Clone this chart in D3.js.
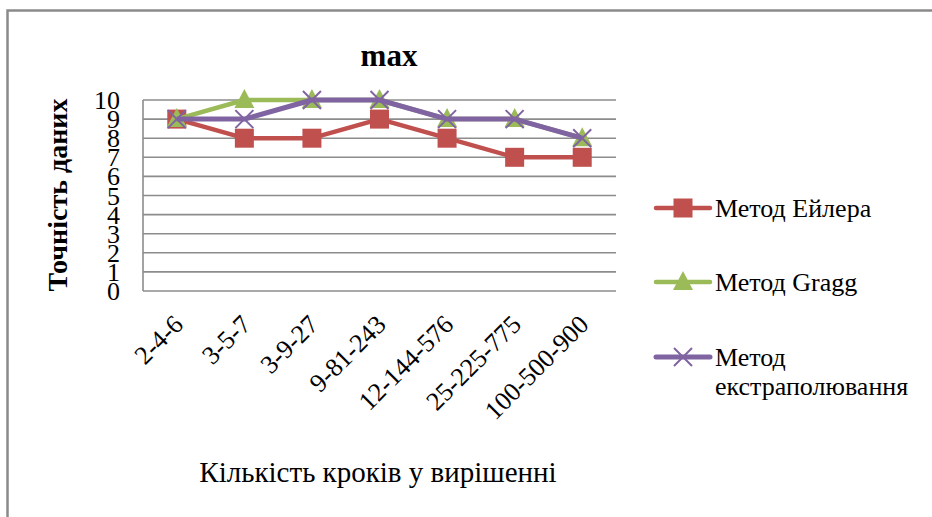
<!DOCTYPE html>
<html>
<head>
<meta charset="utf-8">
<script src="https://cdn.jsdelivr.net/npm/d3@7"></script>
<style>
  html, body { margin: 0; padding: 0; background: #fff; }
  svg { display: block; }
  text { font-family: "Liberation Serif", "Times New Roman", serif; fill: #000; }
</style>
</head>
<body>
<svg id="chart" width="932" height="517"></svg>
<script>
// Step-count combinations along the x axis
const categories = ["2-4-6", "3-5-7", "3-9-27", "9-81-243", "12-144-576", "25-225-775", "100-500-900"];
// Data accuracy per method
const eulerValues = [9, 8, 8, 9, 8, 7, 7];
const graggValues = [9, 10, 10, 10, 9, 9, 8];
const extrapValues = [9, 9, 10, 10, 9, 9, 8];
const yTicks = [0, 1, 2, 3, 4, 5, 6, 7, 8, 9, 10];
const seriesNames = ["Метод Ейлера", "Метод Gragg", "Метод екстраполювання"];

const series = [
  { name: seriesNames[0], values: eulerValues, color: "#C0504D", marker: "square", width: 4.5 },
  { name: seriesNames[1], values: graggValues, color: "#9BBB59", marker: "triangle", width: 4.5 },
  { name: seriesNames[2], values: extrapValues, color: "#8064A2", marker: "cross", width: 5 }
];

const svg = d3.select("#chart");

// outer chart frame
svg.append("rect")
  .attr("x", 7.5).attr("y", 10.5)
  .attr("width", 1000).attr("height", 1000)
  .attr("fill", "none").attr("stroke", "#8a8a8a").attr("stroke-width", 2.5);

const plot = { left: 143, right: 616, top: 100, bottom: 291 };

const x = d3.scaleBand().domain(categories).range([plot.left, plot.right]);
const y = d3.scaleLinear().domain([0, 10]).range([plot.bottom, plot.top]);
const cx = d => x(d) + x.bandwidth() / 2;

// horizontal gridlines
svg.append("g").selectAll("line").data(yTicks).join("line")
  .attr("x1", plot.left).attr("x2", plot.right)
  .attr("y1", d => y(d)).attr("y2", d => y(d))
  .attr("stroke", "#8c8c8c").attr("stroke-width", 1.6);

// y axis line
svg.append("line")
  .attr("x1", plot.left).attr("x2", plot.left)
  .attr("y1", plot.top).attr("y2", plot.bottom)
  .attr("stroke", "#8c8c8c").attr("stroke-width", 1.6);

// y axis tick labels
const yAxis = d3.axisLeft(y).tickValues(yTicks).tickSize(0).tickPadding(0).tickFormat(d3.format("d"));
const yg = svg.append("g").attr("transform", `translate(${plot.left - 23},0)`).call(yAxis);
yg.attr("font-family", null);
yg.select(".domain").remove();
yg.selectAll("text").attr("font-size", 26).attr("fill", "#000").attr("dy", "0.33em");

// x axis tick labels, rotated
svg.append("g").selectAll("text").data(categories).join("text")
  .attr("transform", d => `translate(${cx(d) + 8},${plot.bottom + 35}) rotate(-45)`)
  .attr("text-anchor", "end")
  .attr("font-size", 26)
  .text(d => d);

// title
svg.append("text").attr("x", 389).attr("y", 66)
  .attr("text-anchor", "middle").attr("font-size", 31).attr("font-weight", "bold")
  .text("max");

// axis titles
svg.append("text")
  .attr("transform", `translate(67,195) rotate(-90)`)
  .attr("text-anchor", "middle").attr("font-size", 28).attr("font-weight", "bold")
  .text("Точність даних");

svg.append("text").attr("x", 378).attr("y", 482)
  .attr("text-anchor", "middle").attr("font-size", 29)
  .text("Кількість кроків у вирішенні");

function drawMarker(g, type, color) {
  if (type === "square") {
    g.append("rect").attr("x", -9.5).attr("y", -9.5).attr("width", 19).attr("height", 19)
      .attr("fill", color);
  } else if (type === "triangle") {
    g.append("path").attr("d", "M0,-11 L10,8 L-10,8 Z").attr("fill", color);
  } else {
    g.append("path").attr("d", "M-9,-9 L9,9 M9,-9 L-9,9")
      .attr("stroke", color).attr("stroke-width", 2).attr("fill", "none");
  }
}

const line = d3.line().x((d, i) => cx(categories[i])).y(d => y(d));

series.forEach(s => {
  const g = svg.append("g");
  g.append("path").datum(s.values)
    .attr("d", line)
    .attr("fill", "none").attr("stroke", s.color).attr("stroke-width", s.width)
    .attr("stroke-linejoin", "round");
  s.values.forEach((v, i) => {
    const m = g.append("g").attr("transform", `translate(${cx(categories[i])},${y(v)})`);
    drawMarker(m, s.marker, s.color);
  });
});

// legend
const legendRows = [
  { s: series[0], y: 208, lines: ["Метод Ейлера"] },
  { s: series[1], y: 282, lines: ["Метод Gragg"] },
  { s: series[2], y: 357, lines: ["Метод", "екстраполювання"] }
];
legendRows.forEach(r => {
  const g = svg.append("g");
  g.append("line").attr("x1", 656).attr("x2", 710).attr("y1", r.y).attr("y2", r.y)
    .attr("stroke", r.s.color).attr("stroke-width", r.s.width).attr("stroke-linecap", "round");
  const m = g.append("g").attr("transform", `translate(683,${r.y})`);
  drawMarker(m, r.s.marker, r.s.color);
  const t = g.append("text").attr("x", 715).attr("y", r.y + 9).attr("font-size", 26);
  r.lines.forEach((ln, k) => {
    t.append("tspan").attr("x", 715).attr("dy", k === 0 ? 0 : 29).text(ln);
  });
});
</script>
</body>
</html>
